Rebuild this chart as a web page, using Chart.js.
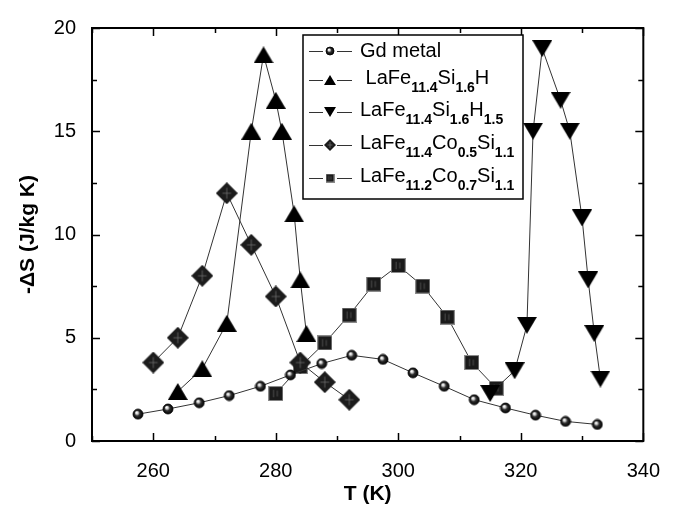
<!DOCTYPE html>
<html>
<head>
<meta charset="utf-8">
<script src="https://cdn.jsdelivr.net/npm/chart.js@4.4.1/dist/chart.umd.min.js"></script>
<style>
  body { margin: 0; background: #fff; }
  #grafico { display: block; }
</style>
</head>
<body>
<canvas id="grafico" width="678" height="507"></canvas>
<script>
// datos
var gdT = [257.5, 262.4, 267.5, 272.4, 277.5, 282.4, 287.5, 292.4, 297.5, 302.4, 307.5, 312.4, 317.5, 322.4, 327.3, 332.5];
var gdS = [1.3, 1.55, 1.85, 2.2, 2.65, 3.2, 3.75, 4.15, 3.95, 3.3, 2.65, 2.0, 1.6, 1.25, 0.95, 0.8];

var siHT = [264, 268, 272, 276, 278, 280, 281, 283, 284, 285];
var siHS = [2.4, 3.5, 5.7, 15.0, 18.7, 16.5, 15.0, 11.0, 7.8, 5.2];

var siH15T = [315, 319, 321, 322, 323.5, 326.5, 328, 330, 331, 332, 333];
var siH15S = [2.3, 3.4, 5.6, 15.0, 19.0, 16.5, 15.0, 10.8, 7.8, 5.2, 3.0];

var co05T = [260, 264, 268, 272, 276, 280, 284, 288, 292];
var co05S = [3.8, 5.0, 8.0, 12.0, 9.5, 7.0, 3.8, 2.85, 2.0];

var co07T = [280, 284, 288, 292, 296, 300, 304, 308, 312, 316];
var co07S = [2.3, 3.6, 4.75, 6.1, 7.6, 8.5, 7.5, 6.0, 3.8, 2.55];

var xTicks = [260, 280, 300, 320, 340];
var yTicks = [0, 5, 10, 15, 20];

var fuente = "'Liberation Sans', Arial, sans-serif";

// marcadores dibujados en canvas
function lienzo(w, h){
    var c = document.createElement('canvas');
    c.width = w; c.height = h;
    return c;
}

function esfera(d){
    var c = lienzo(d + 2, d + 2);
    var g = c.getContext('2d');
    var r = d / 2, cx = r + 1, cy = r + 1;
    var grad = g.createRadialGradient(cx - r*0.3, cy - r*0.35, 0.3, cx, cy, r);
    grad.addColorStop(0, '#ffffff');
    grad.addColorStop(0.22, '#d0d0d0');
    grad.addColorStop(0.5, '#303030');
    grad.addColorStop(1, '#000000');
    g.fillStyle = grad;
    g.beginPath(); g.arc(cx, cy, r, 0, Math.PI*2); g.fill();
    g.strokeStyle = '#000'; g.lineWidth = 0.8; g.stroke();
    return c;
}

function triangulo(w, h, abajo){
    var c = lienzo(w, h);
    var g = c.getContext('2d');
    g.fillStyle = '#000';
    g.beginPath();
    if(abajo){
        g.moveTo(0, 0); g.lineTo(w, 0); g.lineTo(w/2, h);
    }else{
        g.moveTo(w/2, 0); g.lineTo(w, h); g.lineTo(0, h);
    }
    g.closePath(); g.fill();
    return c;
}

function rombo(d){
    var c = lienzo(d, d);
    var g = c.getContext('2d');
    var m = d / 2;
    g.fillStyle = '#1c1c1c';
    g.beginPath();
    g.moveTo(m, 0); g.lineTo(d, m); g.lineTo(m, d); g.lineTo(0, m);
    g.closePath(); g.fill();
    g.strokeStyle = '#777'; g.lineWidth = 0.7;
    g.beginPath();
    g.moveTo(m, d*0.25); g.lineTo(m, d*0.75);
    g.moveTo(d*0.3, m); g.lineTo(d*0.7, m);
    g.stroke();
    return c;
}

function cuadro(d){
    var c = lienzo(d, d);
    var g = c.getContext('2d');
    g.fillStyle = '#1a1a1a';
    g.fillRect(0, 0, d, d);
    g.strokeStyle = '#8a8a8a'; g.lineWidth = 1;
    g.strokeRect(0.5, 0.5, d - 1, d - 1);
    g.strokeStyle = '#666'; g.lineWidth = 0.7;
    g.beginPath();
    g.moveTo(d*0.35, d*0.25); g.lineTo(d*0.35, d*0.75);
    g.moveTo(d*0.6, d*0.3); g.lineTo(d*0.6, d*0.7);
    g.stroke();
    return c;
}

var mGd = esfera(10), mUp = triangulo(20, 17, false), mDown = triangulo(20, 17, true),
    mRombo = rombo(22), mCuadro = cuadro(15);
var lGd = esfera(8), lUp = triangulo(12, 10, false), lDown = triangulo(12, 10, true),
    lRombo = rombo(12), lCuadro = cuadro(9);

function puntos(xs, ys){
    var r = [];
    for(var i = 0; i < xs.length; i++){ r.push({x: xs[i], y: ys[i]}); }
    return r;
}

function serie(xs, ys, marca){
    return {
        data: puntos(xs, ys),
        borderColor: '#333',
        borderWidth: 1,
        pointStyle: marca,
        pointRadius: 10,
        pointHoverRadius: 10,
        showLine: true,
        tension: 0
    };
}

var leyenda = [
    {marca: lGd, partes: [['Gd metal', 0]]},
    {marca: lUp, partes: [[' LaFe', 0], ['11.4', 1], ['Si', 0], ['1.6', 1], ['H', 0]]},
    {marca: lDown, partes: [['LaFe', 0], ['11.4', 1], ['Si', 0], ['1.6', 1], ['H', 0], ['1.5', 1]]},
    {marca: lRombo, partes: [['LaFe', 0], ['11.4', 1], ['Co', 0], ['0.5', 1], ['Si', 0], ['1.1', 1]]},
    {marca: lCuadro, partes: [['LaFe', 0], ['11.2', 1], ['Co', 0], ['0.7', 1], ['Si', 0], ['1.1', 1]]}
];
var filasY = [51, 80, 112, 145, 178];

var marco = {
    id: 'marco',
    afterDatasetsDraw: function(chart){
        var c = chart.ctx, a = chart.chartArea;
        var sx = chart.scales.x, sy = chart.scales.y;
        c.save();
        c.strokeStyle = '#000';
        c.lineWidth = 2;
        c.strokeRect(a.left, a.top, a.right - a.left, a.bottom - a.top);
        c.lineWidth = 1.5;
        c.beginPath();
        for(var v = 250; v <= 340; v += 10){
            var px = Math.round(sx.getPixelForValue(v)) + 0.5;
            var largo = (v % 20 === 0) ? 8 : 5;
            c.moveTo(px, a.bottom); c.lineTo(px, a.bottom - largo);
            c.moveTo(px, a.top); c.lineTo(px, a.top + largo);
        }
        for(var w = 0; w <= 20; w += 2.5){
            var py = Math.round(sy.getPixelForValue(w)) + 0.5;
            var l2 = (w % 5 === 0) ? 8 : 5;
            c.moveTo(a.left, py); c.lineTo(a.left + l2, py);
            c.moveTo(a.right, py); c.lineTo(a.right - l2, py);
        }
        c.stroke();

        // leyenda
        c.fillStyle = '#fff';
        c.fillRect(303, 35, 220, 164);
        c.lineWidth = 1.5;
        c.strokeRect(303, 35, 220, 164);
        c.textBaseline = 'middle';
        for(var i = 0; i < leyenda.length; i++){
            var y = filasY[i];
            var ent = leyenda[i];
            c.strokeStyle = '#333'; c.lineWidth = 1;
            c.beginPath(); c.moveTo(309, y + 0.5); c.lineTo(352, y + 0.5); c.stroke();
            c.fillStyle = '#fff';
            c.fillRect(323, y - 7, 14, 14);
            c.drawImage(ent.marca, 330 - ent.marca.width/2, y - ent.marca.height/2);
            var x = 360;
            var conSub = ent.partes.length > 1;
            c.fillStyle = '#000';
            for(var j = 0; j < ent.partes.length; j++){
                var p = ent.partes[j];
                if(p[1]){
                    c.font = 'bold 14px ' + fuente;
                    c.fillText(p[0], x, y + 8);
                }else{
                    c.font = '20px ' + fuente;
                    c.fillText(p[0], x, conSub ? y - 2 : y);
                }
                x += c.measureText(p[0]).width;
            }
        }
        c.restore();
    }
};

var datos = {
    datasets: [
        serie(gdT, gdS, mGd),
        serie(siHT, siHS, mUp),
        serie(siH15T, siH15S, mDown),
        serie(co05T, co05S, mRombo),
        serie(co07T, co07S, mCuadro)
    ]
};

var grafico = new Chart(document.getElementById('grafico'), {
    type: 'scatter',
    data: datos,
    options: {
        responsive: false,
        animation: false,
        devicePixelRatio: 1,
        layout: {padding: {left: 0, right: 19, top: 23, bottom: 0}},
        plugins: {legend: {display: false}, tooltip: {enabled: false}},
        scales: {
            x: {
                type: 'linear', min: 250, max: 340,
                afterBuildTicks: function(ax){ ax.ticks = xTicks.map(function(v){ return {value: v}; }); },
                afterFit: function(ax){ ax.height = 66; },
                grid: {display: false, drawTicks: false},
                border: {display: false},
                ticks: {color: '#000', padding: 18, maxRotation: 0, font: {family: fuente, size: 20}},
                title: {display: true, text: 'T (K)', color: '#000', padding: {top: 3, bottom: 0},
                        font: {family: fuente, size: 21, weight: 'bold'}}
            },
            y: {
                type: 'linear', min: 0, max: 20,
                afterBuildTicks: function(ax){ ax.ticks = yTicks.map(function(v){ return {value: v}; }); },
                afterFit: function(ax){ ax.width = 92; },
                grid: {display: false, drawTicks: false},
                border: {display: false},
                ticks: {color: '#000', padding: 16, font: {family: fuente, size: 20}},
                title: {display: true, text: '-\u0394S (J/kg K)', color: '#000', padding: {top: 16, bottom: 0},
                        font: {family: fuente, size: 21, weight: 'bold'}}
            }
        }
    },
    plugins: [marco]
});
</script>
</body>
</html>
